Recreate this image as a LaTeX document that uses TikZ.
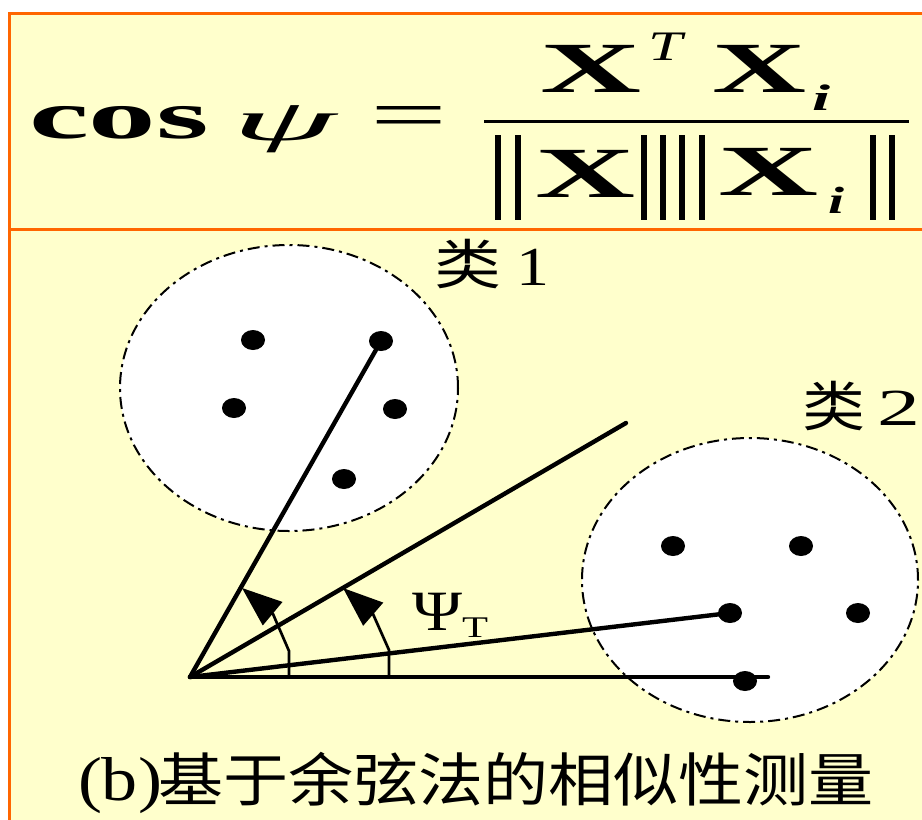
\documentclass[tikz,border=0pt]{standalone}
\usepackage{fontspec}
\setmainfont{Liberation Serif}
\newfontfamily\cjk{Noto Sans CJK SC}
\usetikzlibrary{arrows.meta,shapes.geometric}
\newcommand{\fw}[2]{\resizebox{#1}{\height}{#2}}
\newcommand{\fsz}[1]{\fontsize{#1}{#1}\selectfont}
\definecolor{bgyellow}{HTML}{FFFFCC}
\definecolor{frameorange}{HTML}{FF6600}
\begin{document}
\begin{tikzpicture}[x=1pt,y=-1pt,
  txt/.style={inner sep=0pt, outer sep=0pt, anchor=base west},
  mainline/.style={line width=4.4pt, line cap=round},
  marker/.style={line width=2.7pt, -{Triangle[length=40pt,width=30pt]}},
  cluster/.style={fill=white, draw=black, line width=2pt,
     dash pattern=on 12pt off 5pt on 3pt off 5pt},
  dot/.style={ellipse, fill=black, minimum width=24pt, minimum height=20pt, inner sep=0pt},
  bar/.style={line width=6pt},
  frame/.style={draw=frameorange, line width=3pt}]
\useasboundingbox (0,0) rectangle (922,820);
\fill[white] (0,0) rectangle (922,820);
\fill[bgyellow] (9,13) rectangle (922,820);
\draw[frame] (8,13) -- (922,13);
\draw[frame] (9,13) -- (9,820);
\draw[frame] (8,229.5) -- (922,229.5);

% formula
\node[txt] (cos) at (29,138) {\fw{180pt}{\fsz{68}\bfseries cos}};
\node[txt] (psi) at (232,140) {\fw{104pt}{\fsz{58}\itshape ψ}};
\node[txt] (eq) at (370,138) {\fw{77pt}{\fsz{70}=}};
\draw[line width=3pt] (484,121.5) -- (909,121.5);
\node[txt] (nx1) at (540,92) {\fw{101pt}{\fsz{72}\bfseries X}};
\node[txt] (nT) at (648,60) {\fw{34pt}{\fsz{42}\itshape T}};
\node[txt] (nx2) at (712,92) {\fw{94pt}{\fsz{72}\bfseries X}};
\node[txt] (ni) at (812,110) {\fw{18pt}{\fsz{37}\bfseries\itshape i}};
\node[txt] (dx1) at (535,197) {\fw{100pt}{\fsz{72}\bfseries X}};
\node[txt] (dx2) at (718,195) {\fw{100pt}{\fsz{72}\bfseries X}};
\node[txt] (di) at (828,213) {\fw{16pt}{\fsz{38}\bfseries\itshape i}};
\foreach \bx in {498,518,644,663,682,702,873,892}
  \draw[bar] (\bx,135) -- (\bx,220);

% clusters
\draw[cluster] (289,388) ellipse [x radius=169pt, y radius=143pt];
\draw[cluster] (750,580) ellipse [x radius=168pt, y radius=142pt];

% dots
\node[dot] (a1) at (253,340) {};
\node[dot] (a2) at (381,341) {};
\node[dot] (a3) at (234,408) {};
\node[dot] (a4) at (395,409) {};
\node[dot] (a5) at (344,479) {};
\node[dot] (b1) at (673,546) {};
\node[dot] (b2) at (801,546) {};
\node[dot] (b3) at (730,613) {};
\node[dot] (b4) at (858,613) {};
\node[dot] (b5) at (745,681) {};

% vectors
\coordinate (O) at (190,677);
\coordinate (e1) at (768,677);
\coordinate (e2) at (626,423);
\draw[mainline] (O) -- (a2.center);
\draw[mainline] (O) -- (e2);
\draw[mainline] (O) -- (b3.center);
\draw[mainline] (O) -- (e1);

% angle markers
\coordinate (m1a) at (289,677);
\coordinate (m1b) at (289,651);
\coordinate (m1c) at (273,614);
\coordinate (m1d) at (242,588);
\coordinate (m2a) at (389,677);
\coordinate (m2b) at (389,650);
\coordinate (m2c) at (373,614);
\coordinate (m2d) at (343,588);
\draw[marker] (m1a) -- (m1b) -- (m1c) -- (m1d);
\draw[marker] (m2a) -- (m2b) -- (m2c) -- (m2d);

% labels
\node[txt] (Psi) at (412,630) {\fw{50pt}{\fsz{57}Ψ}};
\node[txt] (PsiT) at (462,637) {\fw{26pt}{\fsz{30}T}};
\node[txt] (c1a) at (434,284) {\fw{67pt}{\fsz{54}\cjk 类}};
\node[txt] (c1b) at (516,285) {\fw{33pt}{\fsz{55}1}};
\node[txt] (c2a) at (802,426) {\fw{63pt}{\fsz{54}\cjk 类}};
\node[txt] (c2b) at (877,425) {\fw{43pt}{\fsz{52}2}};
\node[txt] (capb) at (78,800) {\fw{84pt}{\fsz{62}(b)}};
\node[txt] (capc) at (158,801) {\fw{716pt}{\fsz{58}\cjk 基于余弦法的相似性测量}};
\end{tikzpicture}
\end{document}
